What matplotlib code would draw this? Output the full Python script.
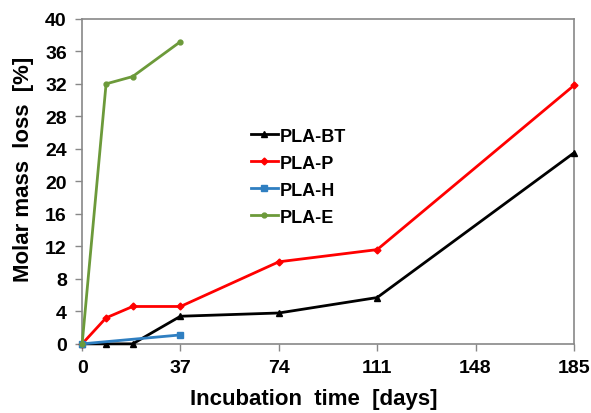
import matplotlib
matplotlib.use("Agg")
import matplotlib.pyplot as plt

plt.rcParams['font.family'] = ['Liberation Sans', 'DejaVu Sans']
plt.rcParams['font.weight'] = 'bold'

days_bt = [0, 9, 19, 37, 74, 111, 185]
loss_bt = [0, 0, 0, 3.4, 3.8, 5.7, 23.5]
days_p = [0, 9, 19, 37, 74, 111, 185]
loss_p = [0, 3.2, 4.6, 4.6, 10.1, 11.6, 31.8]
days_h = [0, 37]
loss_h = [0, 1.1]
days_e = [0, 9, 19, 37]
loss_e = [0, 32.0, 32.9, 37.2]

xticks = [0, 37, 74, 111, 148, 185]
yticks = list(range(0, 41, 4))

fig = plt.figure(figsize=(5.91, 4.14), dpi=100)
ax = fig.add_axes([0.139, 0.167, 0.832, 0.785])

ax.plot(days_bt, loss_bt, color='black', marker='^', markersize=5, lw=2, label='PLA-BT', clip_on=False, zorder=3)
ax.plot(days_p, loss_p, color='#ff0000', marker='D', markersize=3.5, lw=2, label='PLA-P', clip_on=False, zorder=3)
ax.plot(days_h, loss_h, color='#2f7fc1', marker='s', markersize=4, lw=2, label='PLA-H', clip_on=False, zorder=3)
ax.plot(days_e, loss_e, color='#6c9a3a', marker='o', markersize=3.5, lw=2, label='PLA-E', clip_on=False, zorder=3)

ax.set_xlim(0, 185)
ax.set_ylim(0, 40)
ax.set_xticks(xticks)
ax.set_yticks(yticks)
ax.tick_params(axis='both', labelsize=14, direction='out', length=5, color='#888888', width=1, pad=6)
for lab in ax.get_xticklabels() + ax.get_yticklabels():
    lab.set_fontweight('bold')
for s in ax.spines.values():
    s.set_color('#888888')
    s.set_linewidth(1.2)

ax.set_xlabel('Incubation  time  [days]', fontsize=16, fontweight='bold')
ax.set_ylabel('Molar mass  loss  [%]', fontsize=16, fontweight='bold')
ax.xaxis.set_label_coords(0.47, -0.135)
ax.yaxis.set_label_coords(-0.097, 0.54)

leg = ax.legend(loc='upper left', bbox_to_anchor=(0.31, 0.715), frameon=False,
                fontsize=13, handlelength=1.5, handletextpad=0.1, labelspacing=0.55)
for t in leg.get_texts():
    t.set_fontweight('bold')

fig.savefig('out.png', dpi=100)
